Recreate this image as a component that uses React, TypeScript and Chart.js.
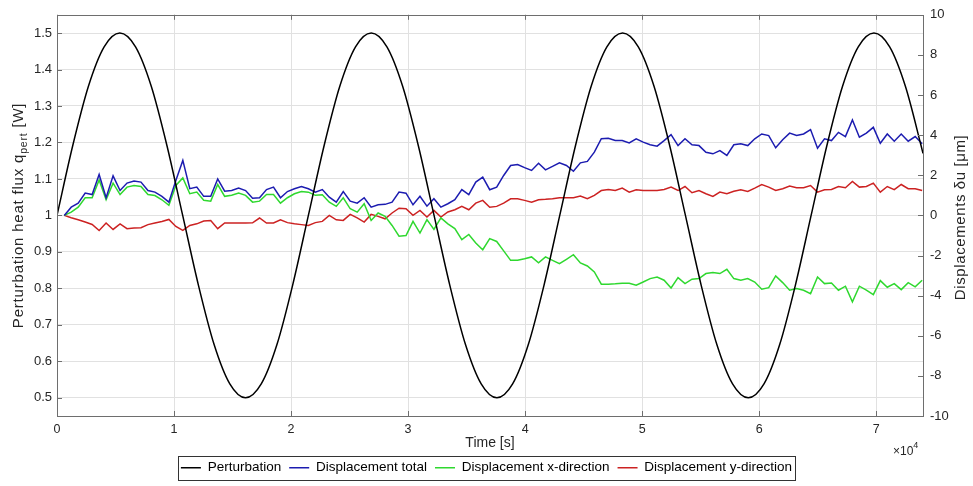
import React, { useEffect, useRef } from 'react';
import { Chart, registerables } from 'chart.js';

Chart.register(...registerables);

// ---------- data ----------
const SERIES_NAMES = ['Perturbation', 'Displacement total', 'Displacement x-direction', 'Displacement y-direction'];
const SERIES_COLORS = ['#000000', '#1c1cb0', '#2fd82f', '#cc2222'];

// perturbation heat flux [W] sampled along time [s]
const PERT_TIME = [
  0, 1342.5, 2685, 4027.5, 5370, 6712.5, 8055, 9397.5, 10740, 12082.5, 13425, 14767.5, 16110, 17452.5, 18795, 20137.5,
  21480, 22822.5, 24165, 25507.5, 26850, 28192.5, 29535, 30877.5, 32220, 33562.5, 34905, 36247.5, 37590, 38932.5, 40275, 41617.5,
  42960, 44302.5, 45645, 46987.5, 48330, 49672.5, 51015, 52357.5, 53700, 55042.5, 56385, 57727.5, 59070, 60412.5, 61755, 63097.5,
  64440, 65782.5, 67125, 68467.5, 69810, 71152.5, 72495, 73837.5, 74000,
];
const PERT_VALUE = [
  1, 1.191, 1.354, 1.462, 1.5, 1.462, 1.354, 1.191, 1, 0.809, 0.646, 0.538, 0.5, 0.538, 0.646, 0.809,
  1, 1.191, 1.354, 1.462, 1.5, 1.462, 1.354, 1.191, 1, 0.809, 0.646, 0.538, 0.5, 0.538, 0.646, 0.809,
  1, 1.191, 1.354, 1.462, 1.5, 1.462, 1.354, 1.191, 1, 0.809, 0.646, 0.538, 0.5, 0.538, 0.646, 0.809,
  1, 1.191, 1.354, 1.462, 1.5, 1.462, 1.354, 1.191, 1.17,
];

// displacement samples [µm], first sample time and sampling interval [s]
const DISP_START = 620;
const DISP_STEP = 596;
const DISP_TOTAL = [
  0, 0.41, 0.61, 1.11, 1.04, 2.04, 0.88, 1.97, 1.24, 1.61, 1.71, 1.66, 1.24, 1.16, 0.95, 0.66, 1.74, 2.74, 1.33, 1.41, 0.95,
  0.95, 1.82, 1.21, 1.24, 1.36, 1.24, 0.86, 0.88, 1.29, 1.41, 0.88, 1.19, 1.33, 1.44, 1.33, 1.16, 1.29, 0.91, 0.66, 1.19, 0.71,
  0.61, 0.88, 0.41, 0.53, 0.55, 0.66, 1.16, 1.11, 0.53, 0.95, 0.46, 0.83, 0.41, 0.58, 0.78, 1.29, 1.04, 1.66, 1.91, 1.28, 1.41,
  1.99, 2.49, 2.54, 2.38, 2.24, 2.60, 2.27, 2.44, 2.62, 2.49, 2.20, 2.62, 2.69, 3.15, 3.82, 3.85, 3.73, 3.73, 3.61, 3.82,
  3.65, 3.52, 3.45, 3.73, 4.03, 3.48, 3.82, 3.52, 3.48, 3.15, 3.07, 3.23, 2.99, 3.52, 3.57, 3.48, 3.82, 4.06, 3.98, 3.37, 3.77,
  4.10, 3.98, 4.06, 4.28, 3.35, 3.82, 3.73, 4.14, 3.93, 4.76, 3.90, 4.10, 4.39, 3.60, 4.06, 3.70, 4.06, 3.70, 3.93, 3.57,
];
const DISP_X = [
  0, 0.16, 0.41, 0.88, 0.88, 1.77, 0.78, 1.61, 1.04, 1.41, 1.49, 1.44, 1.04, 0.99, 0.78, 0.50, 1.49, 1.87, 1.08, 1.16, 0.75,
  0.71, 1.54, 0.95, 1.0, 1.11, 1.0, 0.66, 0.71, 1.04, 1.04, 0.61, 0.88, 1.08, 1.19, 1.16, 1.0, 1.03, 0.66, 0.45, 0.88, 0.33,
  0.16, 0.58, -0.25, 0.12, -0.05, -0.5, -1.04, -1.0, -0.30, -0.88, -0.21, -0.70, -0.12, -0.42, -0.66, -1.21, -0.95, -1.38, -1.71, -1.16, -1.30,
  -1.77, -2.24, -2.24, -2.16, -2.07, -2.36, -2.07, -2.24, -2.41, -2.19, -1.96, -2.37, -2.52, -2.82, -3.43, -3.43, -3.41, -3.38, -3.38, -3.48,
  -3.32, -3.15, -3.07, -3.23, -3.62, -3.10, -3.40, -3.18, -3.15, -2.90, -2.85, -2.90, -2.69, -3.15, -3.23, -3.15, -3.32, -3.68, -3.60, -3.02, -3.35,
  -3.73, -3.65, -3.73, -3.90, -3.07, -3.40, -3.37, -3.73, -3.53, -4.31, -3.53, -3.73, -3.95, -3.25, -3.58, -3.40, -3.70, -3.35, -3.56, -3.23,
];
const DISP_Y = [
  0, -0.12, -0.22, -0.33, -0.45, -0.75, -0.38, -0.70, -0.42, -0.66, -0.63, -0.61, -0.46, -0.38, -0.30, -0.20, -0.55, -0.75, -0.50, -0.42, -0.28,
  -0.25, -0.66, -0.38, -0.38, -0.38, -0.38, -0.37, -0.13, -0.38, -0.38, -0.22, -0.36, -0.42, -0.46, -0.50, -0.36, -0.30, 0.0, -0.22, -0.25, 0.05,
  -0.12, -0.33, 0.05, -0.05, -0.17, 0.12, 0.36, 0.33, 0.0, 0.25, -0.08, 0.25, -0.08, 0.17, 0.28, 0.45, 0.28, 0.61, 0.75, 0.41, 0.45,
  0.61, 0.83, 0.83, 0.75, 0.66, 0.78, 0.80, 0.83, 0.88, 0.88, 0.88, 0.96, 0.83, 1.00, 1.24, 1.29, 1.24, 1.36, 1.16, 1.28,
  1.24, 1.24, 1.24, 1.29, 1.41, 1.24, 1.44, 1.13, 1.24, 1.08, 0.95, 1.16, 1.08, 1.20, 1.28, 1.19, 1.36, 1.54, 1.41, 1.24, 1.33,
  1.46, 1.38, 1.38, 1.49, 1.16, 1.28, 1.29, 1.44, 1.38, 1.69, 1.41, 1.44, 1.61, 1.16, 1.44, 1.28, 1.54, 1.33, 1.33, 1.24,
];

const X_TICKS = [0, 10000, 20000, 30000, 40000, 50000, 60000, 70000];
const X_MAX = 74000;
const LEFT_TICKS = [0.5, 0.6, 0.7, 0.8, 0.9, 1, 1.1, 1.2, 1.3, 1.4, 1.5];
const LEFT_MIN = 0.45;
const LEFT_MAX = 1.55;
const RIGHT_TICKS = [-10, -8, -6, -4, -2, 0, 2, 4, 6, 8, 10];

const X_TITLE = 'Time [s]';
const X_EXPONENT = '4';
const LEFT_TITLE = ['Perturbation heat flux q', 'pert', ' [W]'];
const RIGHT_TITLE = 'Displacements δu [μm]';

// ---------- styling ----------
const SANS = "'Liberation Sans', Arial, Helvetica, sans-serif";
const TEXT = '#262626';
const GRID = '#e1e1e1';
const AXIS = '#6e6e6e';

function toPoints(xs: number[], ys: number[]) {
  return ys.map((y, i) => ({ x: xs[i], y }));
}
function dispPoints(ys: number[]) {
  return ys.map((y, i) => ({ x: DISP_START + i * DISP_STEP, y }));
}

const decorPlugin = {
  id: 'decor',
  afterDraw(chart: any) {
    const { ctx, chartArea: a, scales } = chart;
    ctx.save();
    // axes box
    ctx.strokeStyle = AXIS;
    ctx.lineWidth = 1;
    ctx.strokeRect(Math.round(a.left) + 0.5, Math.round(a.top) + 0.5, Math.round(a.right - a.left), Math.round(a.bottom - a.top));
    // inward tick marks
    ctx.beginPath();
    const tl = 5;
    scales.x.ticks.forEach((t: any) => {
      const px = Math.round(scales.x.getPixelForValue(t.value)) + 0.5;
      ctx.moveTo(px, a.bottom); ctx.lineTo(px, a.bottom - tl);
      ctx.moveTo(px, a.top); ctx.lineTo(px, a.top + tl);
    });
    scales.y.ticks.forEach((t: any) => {
      const py = Math.round(scales.y.getPixelForValue(t.value)) + 0.5;
      ctx.moveTo(a.left, py); ctx.lineTo(a.left + tl, py);
    });
    scales.y2.ticks.forEach((t: any) => {
      const py = Math.round(scales.y2.getPixelForValue(t.value)) + 0.5;
      ctx.moveTo(a.right, py); ctx.lineTo(a.right - tl, py);
    });
    ctx.stroke();

    ctx.fillStyle = TEXT;
    ctx.textBaseline = 'middle';
    // x title
    ctx.font = `14px ${SANS}`;
    ctx.textAlign = 'center';
    ctx.fillText(X_TITLE, (a.left + a.right) / 2, 443);
    // x exponent
    ctx.textAlign = 'left';
    ctx.font = `12px ${SANS}`;
    ctx.fillText('×10', 893, 452);
    const w10 = ctx.measureText('×10').width;
    ctx.font = `9px ${SANS}`;
    ctx.fillText(X_EXPONENT, 893 + w10, 446);

    // left title with subscript
    const cy = (a.top + a.bottom) / 2;
    const parts = [
      { t: LEFT_TITLE[0], f: `15px ${SANS}`, dy: 0 },
      { t: LEFT_TITLE[1], f: `10.5px ${SANS}`, dy: 5 },
      { t: LEFT_TITLE[2], f: `15px ${SANS}`, dy: 0 },
    ];
    (ctx as any).letterSpacing = '0.8px';
    let total = 0;
    parts.forEach((p) => { ctx.font = p.f; total += ctx.measureText(p.t).width; });
    ctx.save();
    ctx.translate(19, cy);
    ctx.rotate(-Math.PI / 2);
    let x0 = -total / 2;
    parts.forEach((p) => {
      ctx.font = p.f;
      ctx.fillText(p.t, x0, p.dy);
      x0 += ctx.measureText(p.t).width;
    });
    ctx.restore();

    // right title
    ctx.save();
    ctx.translate(961, cy + 2);
    ctx.rotate(-Math.PI / 2);
    ctx.textAlign = 'center';
    (ctx as any).letterSpacing = '0.6px';
    ctx.font = `15px ${SANS}`;
    ctx.fillText(RIGHT_TITLE, 0, 0);
    ctx.restore();
    (ctx as any).letterSpacing = '0px';

    // legend frame
    const lg = chart.legend;
    if (lg && lg.legendHitBoxes && lg.legendHitBoxes.length) {
      const hb = lg.legendHitBoxes;
      const l = Math.min(...hb.map((h: any) => h.left));
      const r = Math.max(...hb.map((h: any) => h.left + h.width));
      const t = Math.min(...hb.map((h: any) => h.top));
      const b = Math.max(...hb.map((h: any) => h.top + h.height));
      ctx.strokeStyle = '#333333';
      ctx.lineWidth = 1;
      ctx.strokeRect(Math.round(l - 3) + 0.5, Math.round(t - 5) + 0.5, Math.round(r - l + 6), Math.round(b - t + 10));
    }
    ctx.restore();
  },
};

export default function App() {
  const ref = useRef<HTMLCanvasElement | null>(null);
  useEffect(() => {
    if (!ref.current) return;
    const chart = new Chart(ref.current, {
      type: 'line',
      data: {
        datasets: [
          { label: SERIES_NAMES[0], data: toPoints(PERT_TIME, PERT_VALUE), yAxisID: 'y', borderColor: SERIES_COLORS[0], backgroundColor: SERIES_COLORS[0], borderWidth: 1.5, pointRadius: 0, cubicInterpolationMode: 'monotone' },
          { label: SERIES_NAMES[1], data: dispPoints(DISP_TOTAL), yAxisID: 'y2', borderColor: SERIES_COLORS[1], backgroundColor: SERIES_COLORS[1], borderWidth: 1.5, pointRadius: 0, tension: 0 },
          { label: SERIES_NAMES[2], data: dispPoints(DISP_X), yAxisID: 'y2', borderColor: SERIES_COLORS[2], backgroundColor: SERIES_COLORS[2], borderWidth: 1.5, pointRadius: 0, tension: 0 },
          { label: SERIES_NAMES[3], data: dispPoints(DISP_Y), yAxisID: 'y2', borderColor: SERIES_COLORS[3], backgroundColor: SERIES_COLORS[3], borderWidth: 1.5, pointRadius: 0, tension: 0 },
        ],
      },
      options: {
        animation: false,
        responsive: false,
        maintainAspectRatio: false,
        layout: { padding: { top: 14, left: 0, right: 0, bottom: 1.5 } },
        plugins: {
          tooltip: { enabled: false },
          legend: {
            position: 'bottom',
            labels: {
              usePointStyle: true,
              pointStyle: 'line',
              pointStyleWidth: 20,
              padding: 8,
              color: '#000',
              font: { family: SANS, size: 13.5 },
            },
          },
        },
        scales: {
          x: {
            type: 'linear',
            min: 0,
            max: X_MAX,
            afterBuildTicks: (s: any) => { s.ticks = X_TICKS.map((v) => ({ value: v })); },
            afterFit: (s: any) => { s.height = 37; },
            ticks: { color: TEXT, padding: 6, font: { family: SANS, size: 12.5 }, callback: (v: any) => String(Number(v) / 10000), maxRotation: 0 },
            grid: { color: GRID, drawTicks: false },
            border: { display: false },
          },
          y: {
            type: 'linear',
            position: 'left',
            min: LEFT_MIN,
            max: LEFT_MAX,
            afterBuildTicks: (s: any) => { s.ticks = LEFT_TICKS.map((v) => ({ value: v })); },
            afterFit: (s: any) => { s.width = 57; },
            ticks: { color: TEXT, padding: 5, font: { family: SANS, size: 13 }, callback: (v: any) => String(Math.round(Number(v) * 10) / 10) },
            grid: { color: GRID, drawTicks: false },
            border: { display: false },
          },
          y2: {
            type: 'linear',
            position: 'right',
            min: -10,
            max: 10,
            afterBuildTicks: (s: any) => { s.ticks = RIGHT_TICKS.map((v) => ({ value: v })); },
            afterFit: (s: any) => { s.width = 50; },
            ticks: { color: TEXT, padding: 7, font: { family: SANS, size: 13 }, callback: (v: any) => String(v) },
            grid: { display: false, drawTicks: false },
            border: { display: false },
          },
        },
      } as any,
      plugins: [decorPlugin],
    });
    return () => chart.destroy();
  }, []);
  return (
    <div style={{ position: 'fixed', left: 0, top: 0, width: 973, height: 486, background: '#fff' }}>
      <canvas ref={ref} width={973} height={486} style={{ width: 973, height: 486, display: 'block' }} />
    </div>
  );
}
